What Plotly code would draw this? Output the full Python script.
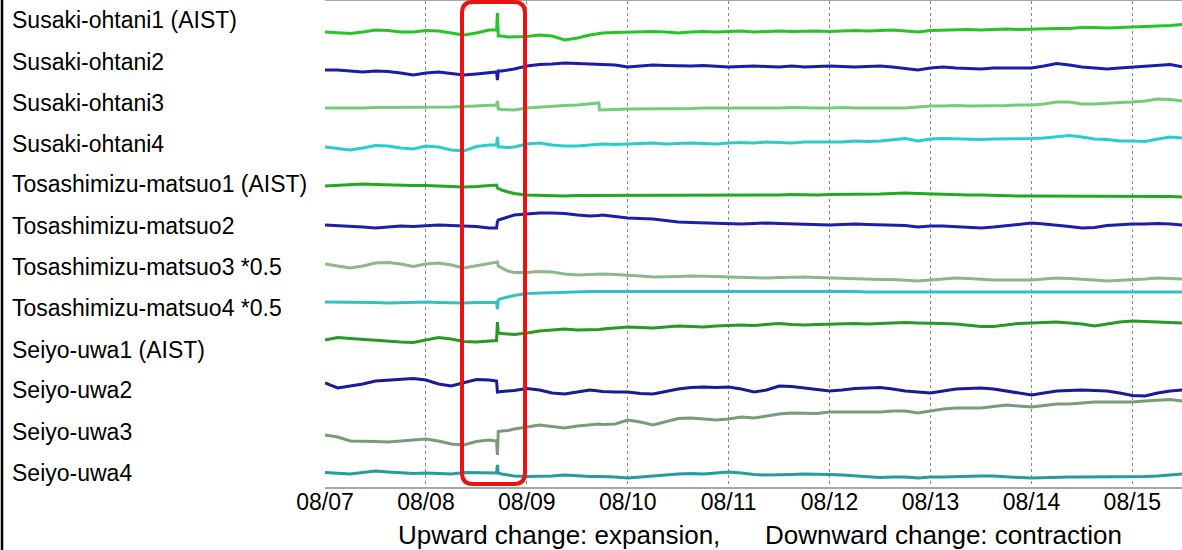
import pandas as pd
import plotly.graph_objects as go

# hours since 08/07 00:00
hours = [0, 3, 6, 9, 12, 15, 18, 21, 24, 27, 30, 33, 36, 39, 40.8, 41, 41.2, 42, 43.5, 45,
         48, 51, 54, 57, 60, 63, 65.1, 65.3, 66, 69, 72, 75, 78, 81, 84, 87, 90, 93, 96, 99,
         102, 105, 108, 111, 114, 117, 120, 123, 126, 129, 132, 135, 138, 141, 144, 147, 150,
         153, 156, 159, 162, 165, 168, 171, 174, 177, 180, 183, 186, 189, 192, 195, 198, 201, 204]

station_names = ["Susaki-ohtani1 (AIST)", "Susaki-ohtani2", "Susaki-ohtani3", "Susaki-ohtani4",
                 "Tosashimizu-matsuo1 (AIST)", "Tosashimizu-matsuo2", "Tosashimizu-matsuo3 *0.5",
                 "Tosashimizu-matsuo4 *0.5", "Seiyo-uwa1 (AIST)", "Seiyo-uwa2", "Seiyo-uwa3", "Seiyo-uwa4"]

tick_labels = ["08/07", "08/08", "08/09", "08/10", "08/11", "08/12", "08/13", "08/14", "08/15"]

susaki_ohtani1 = [0, -0.5, -1.5, 0, 2, 1.5, 0, 0, 1.5, 1, -1, -3, -1, 2, 2, 19, -4, -4, -5, -5, -4.5, -3, -4, -8, -6, -3, -2, -2, -1, -0.5, 0, 0, 0.5, 0, -1, 0, 0.5, 0, 0.5, 1, 0, 0.5, 1, 0.5, 1, 1, 0.5, 1, 1.5, 1, 1.5, 2, 1, 0, 1.5, 2, 2.5, 2.5, 2, 2.5, 3, 2.5, 3, 3, 3.5, 3.5, 4.5, 4.5, 4, 4.5, 5, 5, 6, 6.5, 7.5]
susaki_ohtani2 = [0, 0, -1, -2, -1, -1.5, -3, -5, -3, -2, -3.5, -5, -4, -2.5, -2, -10, -1, -1, 0, 1, 4, 5.5, 6, 7, 6.5, 6, 6, 6, 6, 5, 3, 4, 5, 4.5, 4, 4, 4.5, 3.5, 3, 3.5, 4, 3.5, 3, 4, 3, 3.5, 4, 3.5, 3, 3.5, 4, 3, 1.5, 0, 2, 3, 2, 1.5, 1, 2, 2, 1.5, 2, 4, 6.5, 5, 3, 2, 1, 2, 3, 4, 5, 5.5, 3]
susaki_ohtani3 = [0, 0, -0.5, 0, 0.5, 0.5, 1, 0.5, 1, 1, 1, 1.5, 2, 3, 3, 7, -1, -1.5, -2, -2, 0, 1, 2, 2.5, 3, 4, 5, -2, -2, -1.5, -1, -1, -0.5, -0.5, -1, -0.5, 0, 0, -0.5, 0, 0, -0.5, 0, 0.5, 0, 0, 0, 0.5, 0, 0, 0.5, 0, 0, 1, 2, 2, 2.5, 2, 2, 2.5, 2.5, 3, 3, 4, 6, 6, 4, 4, 5, 5.5, 6, 7, 9, 8.5, 7]
susaki_ohtani4 = [0, -1.5, -3, -1, 1.5, 1, -1, -2, 1, 0, -3, -4, 0.5, 2, 2, 10, 0, 0, -0.5, 0, 3, 4, 2, 1, 1, 2, 3, 3, 3, 2.5, 3, 3.5, 4, 3, 3.5, 4, 3.5, 3, 4, 4.5, 4, 5, 4.5, 4, 5, 5, 5.5, 5, 6, 5.5, 6, 7.5, 8.5, 6, 8, 8.5, 8, 8, 7.5, 8, 8, 8.5, 8.5, 9, 10, 11.5, 10, 8, 7.5, 6, 6, 5.5, 8, 10, 9]
tosashimizu_matsuo1 = [0, 0.5, 1, 2, 1.5, 1, 1, 0.5, 0.5, 0, 0, -1, -0.5, 0.5, 1, -2, -2.5, -4, -6, -7.5, -9, -9.5, -9.5, -10, -9.5, -9.5, -9.5, -9.5, -9.5, -9, -9, -9, -9, -9.5, -9, -9, -9, -9.5, -9, -9, -9, -9.5, -9, -8.5, -9, -9, -8.5, -8.5, -8.5, -8, -8, -7.5, -7, -7.5, -8, -8, -8.5, -9, -9, -9.5, -10, -10, -10, -10, -10.5, -10, -10, -10, -10, -10, -10, -10.5, -10.5, -10.5, -11]
tosashimizu_matsuo2 = [0, -0.5, -1, -2, -3, -2, -1, -1.5, -0.5, 0, -0.5, -1, -1.5, -3, -3, 3, 5, 6, 8, 10, 11, 12, 12, 11.5, 10, 9, 9.5, 9.5, 10, 8.5, 7, 6.5, 6, 4.5, 3, 2.5, 2, 1.5, 1, 1, 1.5, 2, 1.5, 1, 0.5, 0, 0, 0.5, 1, 0.5, 0, 0, -0.5, -2, -1, -1, -1.5, -2, -3, -2, -0.5, 1, 2, 1, 0, -1.5, -3, -2.5, -0.5, 0.5, 1, 1, 1.5, 1, 0]
tosashimizu_matsuo3 = [0, -2, -4, -2, 1, 1.5, 0, -2.5, 0, 1, -1, -4, -1.5, 1, 2, 2, -2, -4, -7, -8.5, -8.5, -7.5, -8, -10, -11, -10.5, -10, -10, -10, -10.5, -11, -12, -13, -13, -12.5, -12, -12, -12.5, -13, -13.5, -14, -14, -13.5, -13, -13, -13.5, -14, -14.5, -15, -15, -15.5, -15.5, -16, -17, -16, -15, -14, -14.5, -15.5, -16, -16, -16, -16, -15, -14, -14.5, -15, -16, -17, -16.5, -16, -15, -14, -14.5, -15]
tosashimizu_matsuo4 = [0, 0, -0.5, 0, -0.5, -1, -0.5, 0, 0, -0.5, -1, -1, -0.5, -0.5, -0.5, -7, 2, 3.5, 5, 6.5, 8.5, 9, 9.5, 10, 10, 10.5, 10.5, 10.5, 10.5, 10.5, 10.5, 10.5, 11, 11, 10.5, 11, 11, 10.5, 11, 11, 10.5, 10.5, 11, 11, 10.5, 10.5, 10.5, 10.5, 10.5, 10, 10, 10, 10, 10, 10.5, 10.5, 10, 10, 10, 10, 10, 10, 10, 10, 10, 10, 10, 10, 10, 10, 10, 10, 10, 10, 10]
seiyo_uwa1 = [0, 2.5, 1.5, 0.5, 0, -1, -2, -2.5, 0, 2.5, 1, -1.5, -2, -1, -0.5, 18, 7, 6.5, 6, 5.5, 7, 9, 10, 11, 10, 10, 10.5, 10.5, 11, 12, 13, 12.5, 12, 13, 14, 13.5, 13, 14, 14.5, 15, 14.5, 15.5, 16.5, 15.5, 15, 15.5, 16, 16, 16.5, 16, 16.5, 17, 17.5, 17, 17, 16.5, 16, 15, 13.5, 13.5, 15, 16.5, 17, 17.5, 18, 17, 16, 14, 16, 18, 19, 18.5, 18, 17.5, 17]
seiyo_uwa2 = [0, -5, -3, -1, 2, 3, 3.5, 4.5, 3, -1, -3, 0, 3.5, 3, 2, -9, -9, -8.5, -8, -7.5, -5.5, -7, -10, -11, -9, -7, -8, -8, -8.5, -9, -9, -10.5, -11, -8.5, -6, -4.5, -4, -4.5, -4, -6, -9, -7, -3, -3.5, -5, -7, -8, -7, -5.5, -5, -4.5, -6, -8, -9, -10, -8, -6, -5.5, -5, -6, -8, -10, -12, -10, -8, -7.5, -7, -7.5, -8, -10, -12.5, -13, -10, -8, -7]
seiyo_uwa3 = [2, 0, -4, -4, -4.5, -5, -4, -3, -2, -4, -7, -8, -4.5, -3, -4, -18, 5.5, 6, 6.5, 8, 10, 12, 10.5, 9, 11, 12.5, 13, 13, 12.5, 13, 17, 15, 12, 15, 18.5, 19, 18, 17, 18, 20, 19, 21, 23, 24, 24, 23.5, 25, 25, 25, 24.5, 25, 26, 26, 24, 26, 28, 29, 29, 29, 30.5, 32, 31, 30, 31.5, 33, 33, 34, 35, 35, 35, 35, 36, 37, 37.5, 36]
seiyo_uwa4 = [0.5, -0.5, -1, 0.5, 2, 1, 0, -0.5, 0, -0.5, -1, 0.5, 0.5, 0, 0, 8, 0, -1, -2, -3, -3.5, -3.5, -3, -2, -3, -3.5, -3.5, -3.5, -3.5, -4, -5, -4, -2.5, -1.5, -1, -0.5, -1, 0, 1, 0, -1.5, -2, -2, -1.5, -1, -1, -1.5, -2, -3, -4, -4.5, -4, -4, -5, -4, -4, -3.5, -3.5, -3, -3, -4, -4.5, -5, -4.5, -4, -4, -4, -4, -4, -4, -4, -3.5, -3, -2, -1]

series = [susaki_ohtani1, susaki_ohtani2, susaki_ohtani3, susaki_ohtani4,
          tosashimizu_matsuo1, tosashimizu_matsuo2, tosashimizu_matsuo3, tosashimizu_matsuo4,
          seiyo_uwa1, seiyo_uwa2, seiyo_uwa3, seiyo_uwa4]

# layout / style (pixel-based stacking)
colors = ["#27c427", "#1c1caa", "#73cc7a", "#2ccccc", "#22a822", "#1e1ea8",
          "#8ab88a", "#33c0c4", "#259a25", "#1a1a96", "#7a9a7a", "#269c9c"]
trace_rows = [32, 70, 108, 147, 186, 225, 264, 302, 340, 383, 437, 473]
label_rows = [20, 62, 103, 144, 184, 226, 267, 308, 350, 390, 432, 473]

W, H = 1182, 550
L, R, T, B = 325, 0, 1, 63
PW, PH = W - L - R, H - T - B
BOTTOM = T + PH  # pixel row of x axis

start = pd.Timestamp("2016-08-07 00:00")
times = [start + pd.Timedelta(hours=h) for h in hours]

fig = go.Figure()
for vals, row, col in zip(series, trace_rows, colors):
    fig.add_trace(go.Scatter(
        x=times, y=[(BOTTOM - row) + v for v in vals], mode="lines",
        line=dict(color=col, width=3), showlegend=False, hoverinfo="skip"))

font_family = "Liberation Sans, Arial, sans-serif"

annotations = []
for name, row in zip(station_names, label_rows):
    annotations.append(dict(xref="paper", yref="paper", x=(10 - L) / PW, y=(BOTTOM - row) / PH,
                            xanchor="left", yanchor="middle", text=name, showarrow=False,
                            font=dict(family=font_family, size=23, color="black")))
annotations.append(dict(xref="paper", yref="paper", x=(722 - L) / PW, y=(BOTTOM - 535) / PH,
                        xanchor="right", yanchor="middle", text="Upward change: expansion,",
                        showarrow=False, font=dict(family=font_family, size=26, color="black")))
annotations.append(dict(xref="paper", yref="paper", x=(763 - L) / PW, y=(BOTTOM - 535) / PH,
                        xanchor="left", yanchor="middle", text="Downward change: contraction",
                        showarrow=False, font=dict(family=font_family, size=26, color="black")))

# rounded red box (paper coords)
x0, x1 = (462 - L) / PW, (525 - L) / PW
y0, y1 = (BOTTOM - 484) / PH, (BOTTOM - 2) / PH
rx, ry = 11 / PW, 11 / PH
path = (f"M {x0 + rx},{y1} L {x1 - rx},{y1} Q {x1},{y1} {x1},{y1 - ry} "
        f"L {x1},{y0 + ry} Q {x1},{y0} {x1 - rx},{y0} L {x0 + rx},{y0} "
        f"Q {x0},{y0} {x0},{y0 + ry} L {x0},{y1 - ry} Q {x0},{y1} {x0 + rx},{y1} Z")

shapes = [
    dict(type="path", xref="paper", yref="paper", path=path,
         line=dict(color="#ee1111", width=4)),
    dict(type="line", xref="paper", yref="paper", x0=(2 - L) / PW, x1=(2 - L) / PW,
         y0=-B / PH, y1=1 + T / PH, line=dict(color="black", width=2.5)),
]

tickvals = [start + pd.Timedelta(days=i) for i in range(len(tick_labels))]

fig.update_layout(
    width=W, height=H, margin=dict(l=L, r=R, t=T, b=B),
    paper_bgcolor="white", plot_bgcolor="white",
    annotations=annotations, shapes=shapes,
    xaxis=dict(range=[start, start + pd.Timedelta(hours=203.8)], tickvals=tickvals,
               ticktext=tick_labels, showgrid=True, gridcolor="#8a8a8a", griddash="dot",
               gridwidth=1, showline=True, linecolor="#a8a8a8", linewidth=2, mirror=True,
               ticks="", ticklabelstandoff=-7,
               tickfont=dict(family=font_family, size=23, color="black"),
               zeroline=False),
    yaxis=dict(range=[0, PH], visible=False, showgrid=False, zeroline=False),
)

fig.write_html("out.html", config={"displayModeBar": False},
               post_script="document.body.style.margin='0';document.body.style.overflow='hidden';")
